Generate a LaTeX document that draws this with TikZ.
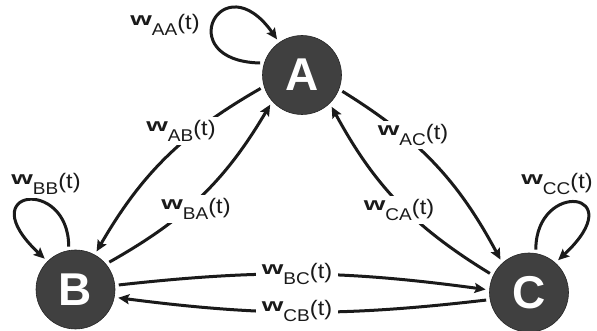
\documentclass[tikz,border=0pt]{standalone}
\usepackage{graphicx}
\usepackage{fontspec}
\setmainfont{Liberation Sans}
\usetikzlibrary{arrows.meta}
\definecolor{nodegray}{HTML}{404040}
\definecolor{ink}{HTML}{1A1A1A}
\newcommand{\wlab}[1]{{\fontsize{18.5}{18}\selectfont\bfseries\scalebox{1.5}[1]{w}}\scalebox{1.12}[1]{\fontsize{17}{17}\selectfont\raisebox{-10pt}{#1}}\scalebox{1.12}[1]{\fontsize{21}{21}\selectfont\raisebox{-3.5pt}{(t)}}}
\begin{document}
\begin{tikzpicture}[x=1pt,y=1pt,
  state/.style={circle, fill=nodegray, draw=black!85, line width=0.6pt, minimum size=79pt, inner sep=0pt, outer sep=4pt, text=white, font=\fontsize{46}{46}\selectfont\bfseries},
  conn/.style={draw=ink, line width=3pt, -{Stealth[length=11pt,width=10pt,inset=2pt]}},
  lab/.style={fill=white, inner xsep=6pt, inner ysep=3pt, text=ink}]
\useasboundingbox (0,0) rectangle (597,331);
\node[state] (A) at (302,256) {A};
\node[state] (B) at (75.5,41.5) {B};
\node[state] (C) at (529,38.5) {C};
% connectors
\draw[conn] (A.198) to[bend right=15] (B.61);
\draw[conn] (B.39) to[bend right=15] (A.223);
\draw[conn] (A.338) to[bend left=15] (C.131);
\draw[conn] (C.154) to[bend left=15] (A.313);
\draw[conn] (B.6) to[bend left=7] (C.176);
\draw[conn] (C.190) to[bend left=7] (B.-11);
% self loops
\draw[conn] (A.164) .. controls +(-90,2) and +(-55,78) .. (A.125);
\draw[conn] (B.99) .. controls +(0,70) and +(-75,70) .. (B.135);
\draw[conn] (C.81) .. controls +(0,70) and +(75,70) .. (C.48);
% labels
\node[lab, inner xsep=3pt] (lAA) at (165,306) {\wlab{AA}};
\node[lab] (lBB) at (46,147) {\wlab{BB}};
\node[lab] (lCC) at (557,147) {\wlab{CC}};
\node[lab] (lAB) at (181,200) {\wlab{AB}};
\node[lab] (lBA) at (196,122) {\wlab{BA}};
\node[lab] (lAC) at (413,196) {\wlab{AC}};
\node[lab] (lCA) at (399,121) {\wlab{CA}};
\node[lab] (lBC) at (297,57) {\wlab{BC}};
\node[lab] (lCB) at (297,20) {\wlab{CB}};
\end{tikzpicture}
\end{document}
